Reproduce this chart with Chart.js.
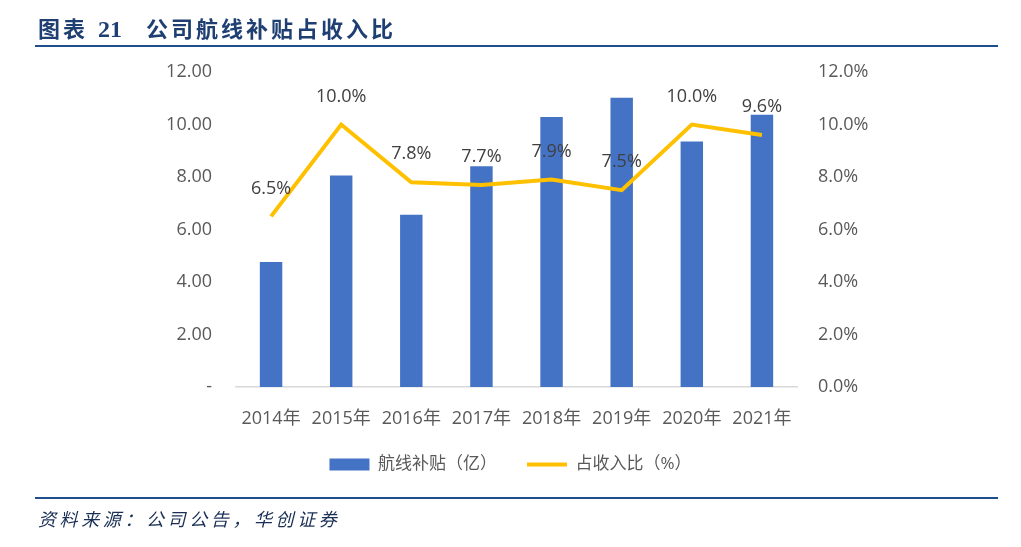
<!DOCTYPE html>
<html>
<head>
<meta charset="utf-8">
<script src="https://cdn.jsdelivr.net/npm/chart.js@4/dist/chart.umd.min.js"></script>
<style>
  html, body { margin: 0; padding: 0; background: #fff; }
  #page { position: relative; width: 1021px; height: 547px; overflow: hidden; }
  #title { position: absolute; left: 38px; top: 11px; font: bold 22px "Noto Sans CJK SC", sans-serif; color: #1f3f73; letter-spacing: 3px; white-space: nowrap; }
  #title .num { font-family: "Liberation Serif", serif; font-size: 24px; letter-spacing: 0; margin: 0 24px 0 4px; }
  .rule { position: absolute; left: 35px; width: 963px; height: 2px; background: #1f4e8c; }
  #source { position: absolute; left: 38px; top: 505px; font: italic 18px "Noto Sans CJK SC", sans-serif; color: #1a2f55; letter-spacing: 3.6px; }
  #wrap { position: absolute; left: 0; top: 0; width: 1021px; height: 547px; }
</style>
</head>
<body>
<div id="page">
  <div id="wrap"><canvas id="chart"></canvas></div>
  <div id="title">图表<span class="num"> 21</span>公司航线补贴占收入比</div>
  <div class="rule" style="top:45px"></div>
  <div class="rule" style="top:497px"></div>
  <div id="source">资料来源：公司公告，华创证券</div>
</div>
<script>
const years = ['2014年', '2015年', '2016年', '2017年', '2018年', '2019年', '2020年', '2021年'];
const subsidy = [4.76, 8.06, 6.56, 8.41, 10.29, 11.02, 9.35, 10.37];
const ratio = [6.5, 10.0, 7.8, 7.7, 7.9, 7.5, 10.0, 9.6];
const ratioLabels = ['6.5%', '10.0%', '7.8%', '7.7%', '7.9%', '7.5%', '10.0%', '9.6%'];

const FONT = '"Open Sans", "Noto Sans CJK SC", sans-serif';

// percentage labels over the line points
const pointLabels = {
  id: 'pointLabels',
  afterDatasetsDraw(chart) {
    const ctx = chart.ctx;
    const meta = chart.getDatasetMeta(0);
    ctx.save();
    ctx.font = '18px ' + FONT;
    ctx.fillStyle = '#404040';
    ctx.textAlign = 'center';
    ctx.textBaseline = 'middle';
    meta.data.forEach((pt, i) => {
      ctx.fillText(ratioLabels[i], pt.x, pt.y - 28);
    });
    ctx.restore();
  },
};

new Chart(document.getElementById('chart').getContext('2d'), {
  data: {
    labels: years,
    datasets: [
      {
        type: 'line',
        label: '占收入比（%）',
        data: ratio,
        yAxisID: 'y1',
        borderColor: '#ffc000',
        backgroundColor: '#ffc000',
        borderWidth: 4,
        pointRadius: 0,
        tension: 0,
        pointStyle: 'line',
        order: 0,
      },
      {
        type: 'bar',
        label: '航线补贴（亿）',
        data: subsidy,
        yAxisID: 'y',
        backgroundColor: '#4472c4',
        categoryPercentage: 1,
        barPercentage: 0.32,
        pointStyle: 'rect',
        order: 1,
      },
    ],
  },
  plugins: [pointLabels],
  options: {
    responsive: true,
    maintainAspectRatio: false,
    animation: false,
    layout: { padding: { top: 72, bottom: 64, left: 0, right: 0 } },
    plugins: {
      tooltip: { enabled: false },
      legend: {
        position: 'bottom',
        reverse: true,
        labels: {
          usePointStyle: true,
          pointStyleWidth: 40,
          boxHeight: 12,
          padding: 30,
          color: '#595959',
          font: { family: FONT, size: 17 },
        },
      },
    },
    scales: {
      x: {
        grid: { display: false, drawTicks: false },
        border: { color: '#d9d9d9', width: 1.5 },
        ticks: { color: '#595959', padding: 21, font: { family: FONT, size: 18 } },
        afterFit(s) { s.height = 39; },
      },
      y: {
        position: 'left',
        min: 0,
        max: 12,
        grid: { display: false, drawTicks: false },
        border: { display: false },
        ticks: {
          stepSize: 2,
          padding: 24,
          color: '#595959',
          font: { family: FONT, size: 18 },
          callback: (v) => (v === 0 ? '-' : v.toFixed(2)),
        },
        afterFit(s) { s.width = 236; },
      },
      y1: {
        position: 'right',
        min: 0,
        max: 12,
        grid: { display: false, drawTicks: false },
        border: { display: false },
        ticks: {
          stepSize: 2,
          padding: 21,
          color: '#595959',
          font: { family: FONT, size: 18 },
          callback: (v) => v.toFixed(1) + '%',
        },
        afterFit(s) { s.width = 224; },
      },
    },
  },
});
</script>
</body>
</html>
